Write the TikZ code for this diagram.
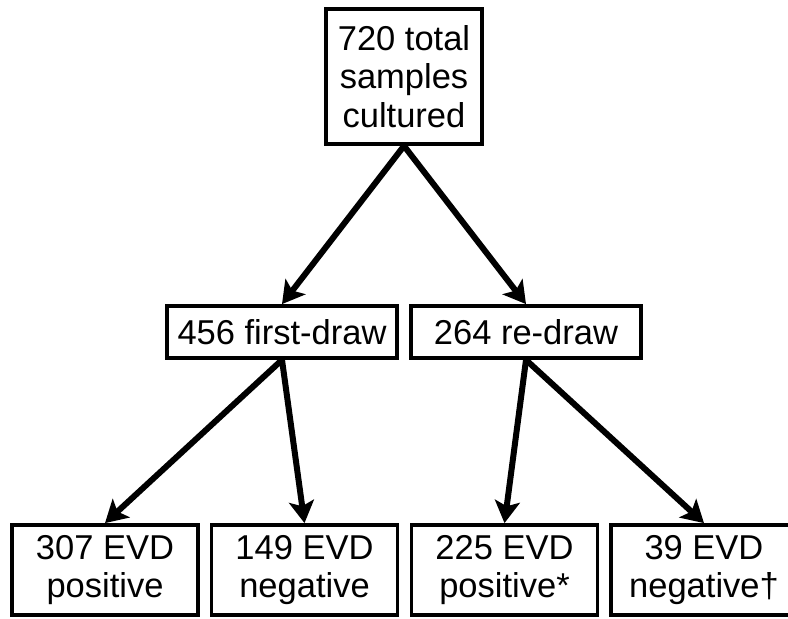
\documentclass[tikz,border=0pt]{standalone}
\usepackage{fontspec}
\setmainfont{Liberation Sans}
\usetikzlibrary{arrows.meta}
\begin{document}
\begin{tikzpicture}[x=1pt, y=-1pt,
		scatola/.style={draw, line width=3.8pt, inner sep=0pt, align=center,
			font=\fontsize{34.5}{38.5}\selectfont},
		freccia/.style={line width=6pt, -{Stealth[length=22pt, width=25pt, inset=5pt]}}]
		% cornice
		\useasboundingbox (0,0) rectangle (788,619);
		% campioni totali
		\node[scatola, minimum width=156pt, minimum height=135pt] (totale) at (404,76.5) {720 total\\samples\\cultured};
		% primo prelievo e secondo prelievo
		\node[scatola, minimum width=230pt, minimum height=52pt] (primo) at (282,332) {456 first-draw};
		\node[scatola, minimum width=230pt, minimum height=52pt] (secondo) at (526,332) {264 re-draw};
		% risultati
		\node[scatola, minimum width=186pt, minimum height=90pt] (pospri) at (105,570) {307 EVD\\positive};
		\node[scatola, minimum width=186pt, minimum height=90pt] (negpri) at (304.5,570) {149 EVD\\negative};
		\node[scatola, minimum width=186pt, minimum height=90pt] (possec) at (504.5,570) {225 EVD\\positive*};
		\node[scatola, minimum width=186pt, minimum height=90pt] (negsec) at (704,570) {39 EVD\\negative\textdagger};
		% frecce
		\draw[freccia] (totale.south) -- (primo.north);
		\draw[freccia] (totale.south) -- (secondo.north);
		\draw[freccia] (primo.south) -- (pospri.north);
		\draw[freccia] (primo.south) -- (negpri.north);
		\draw[freccia] (secondo.south) -- (possec.north);
		\draw[freccia] (secondo.south) -- (negsec.north);
	\end{tikzpicture}
\end{document}
